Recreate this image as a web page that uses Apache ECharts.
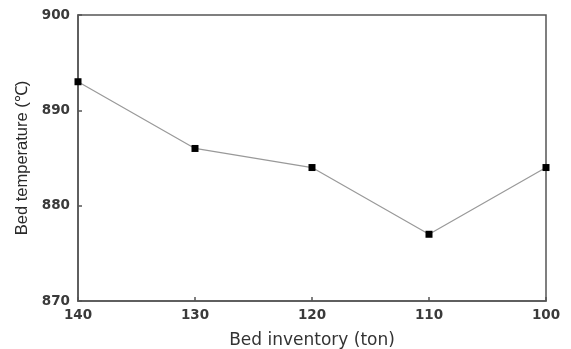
<!DOCTYPE html>
<html><head><meta charset="utf-8">
<script src="https://cdn.jsdelivr.net/npm/echarts@6/dist/echarts.min.js"></script>
<style>html,body{margin:0;padding:0;background:#fff}#c{width:571px;height:349px}</style>
</head><body><div id="c"></div>
<script>
const inventory = [140, 130, 120, 110, 100];
const temperature = [893, 886, 884, 877, 884];
const xTicks = [100, 110, 120, 130, 140];
const yTicks = [870, 880, 890, 900];

const chart = echarts.init(document.getElementById('c'));
chart.setOption({
  animation: false,
  grid: { left: 78, right: 25, top: 15, bottom: 48, show: true, borderColor: '#555', borderWidth: 1.5, backgroundColor: 'transparent', containLabel: false, outerBoundsMode: 'none' },
  xAxis: {
    type: 'value', min: 100, max: 140, interval: 10, inverse: true,
    name: 'Bed inventory (ton)', nameLocation: 'middle', nameGap: 31,
    nameTextStyle: { fontFamily: 'DejaVu Sans', fontSize: 17, color: '#333' },
    axisLine: { show: true, lineStyle: { color: '#555', width: 1.5 } },
    axisTick: { show: true, inside: true, length: 4, lineStyle: { color: '#555', width: 1.5 } },
    axisLabel: { fontFamily: 'DejaVu Sans', fontWeight: 'bold', fontSize: 13.5, color: '#3a3a3a', margin: 7 },
    splitLine: { show: false }
  },
  yAxis: {
    type: 'value', min: 870, max: 900, interval: 10,
    name: 'Bed temperature (\u2103)', nameLocation: 'middle', nameGap: 46,
    nameTextStyle: { fontFamily: 'Liberation Sans', fontSize: 16.5, color: '#2a2a2a' },
    axisLine: { show: true, lineStyle: { color: '#555', width: 1.5 } },
    axisTick: { show: true, inside: true, length: 4, lineStyle: { color: '#555', width: 1.5 } },
    axisLabel: { fontFamily: 'DejaVu Sans', fontWeight: 'bold', fontSize: 13.5, color: '#3a3a3a', margin: 8 },
    splitLine: { show: false }
  },
  series: [{
    type: 'line',
    data: inventory.map((x, i) => [x, temperature[i]]),
    symbol: 'rect', symbolSize: 7,
    itemStyle: { color: '#000' },
    lineStyle: { color: '#999', width: 1.2 },
    clip: false
  }]
});
</script></body></html>
